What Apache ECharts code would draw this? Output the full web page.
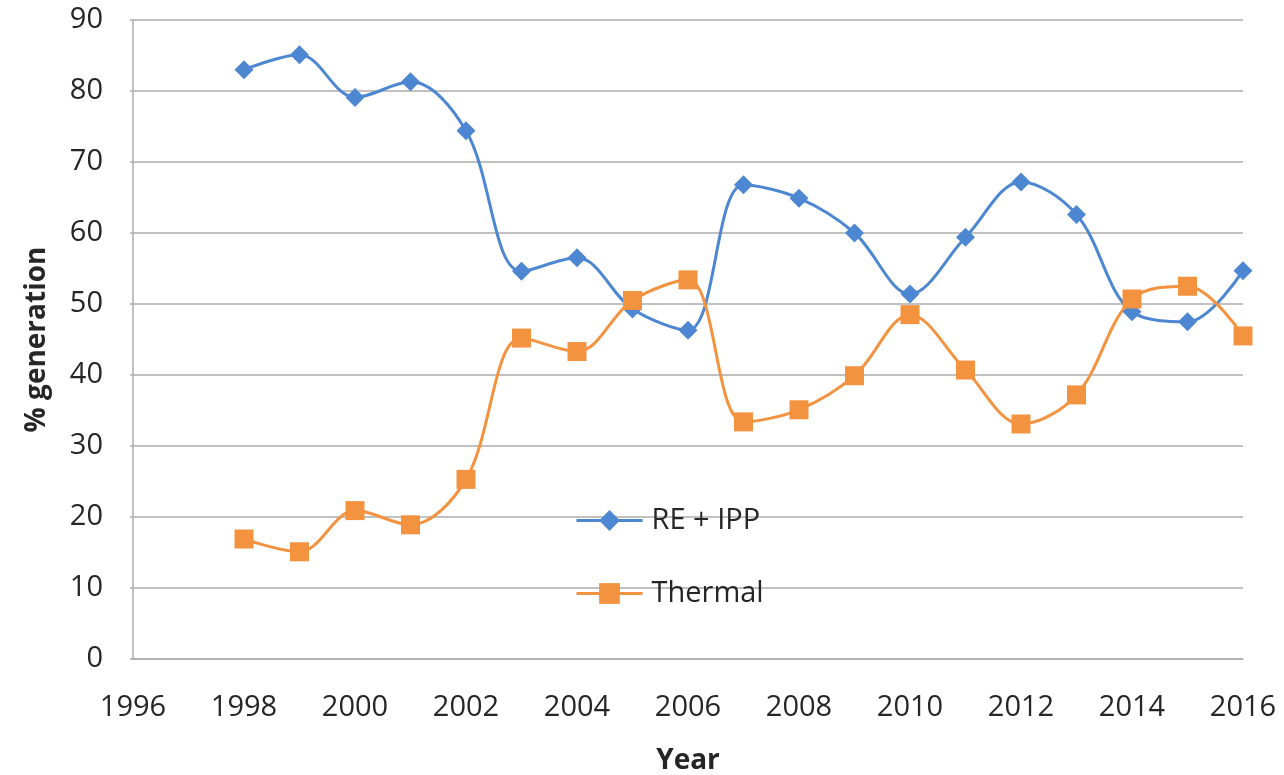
<!DOCTYPE html>
<html>
<head>
<meta charset="utf-8">
<title>% generation by year</title>
<script src="https://cdn.jsdelivr.net/npm/echarts@6/dist/echarts.min.js"></script>
<style>
  html, body { margin: 0; padding: 0; background: #fff; }
  #chart { width: 1284px; height: 775px; }
</style>
</head>
<body>
<div id="chart"></div>
<script>
  // 数据
  var years = [1998, 1999, 2000, 2001, 2002, 2003, 2004, 2005, 2006, 2007,
               2008, 2009, 2010, 2011, 2012, 2013, 2014, 2015, 2016];
  var reIpp = [83.0, 85.1, 79.1, 81.3, 74.4, 54.6, 56.5, 49.3, 46.3, 66.8,
               64.9, 60.0, 51.4, 59.4, 67.2, 62.6, 48.9, 47.5, 54.7];
  var thermal = [16.9, 15.1, 20.9, 18.9, 25.3, 45.2, 43.3, 50.5, 53.4, 33.4,
                 35.1, 39.9, 48.5, 40.7, 33.1, 37.2, 50.7, 52.5, 45.5];

  var toPairs = function (vals) {
    var arr = [];
    for (var i = 0; i < years.length; i++) {
      arr.push([years[i], vals[i]]);
    }
    return arr;
  };

  var blue = '#4d87d1';
  var orange = '#f3923f';
  var gridGray = '#adadad';
  var font = 'Open Sans';

  var myChart = echarts.init(document.getElementById('chart'));
  var option = {
    animation: false,
    textStyle: { fontFamily: font },
    grid: { left: 133, right: 41, top: 20, bottom: 116, containLabel: false, outerBoundsMode: 'none' },
    legend: {
      orient: 'vertical',
      left: 570,
      top: 501,
      itemWidth: 66,
      itemHeight: 26,
      itemGap: 44,
      lineStyle: { width: 3 },
      textStyle: { fontFamily: font, fontSize: 29, color: '#262626', padding: [0, 0, 0, 4] },
      data: ['RE + IPP', 'Thermal']
    },
    xAxis: {
      type: 'value',
      min: 1996,
      max: 2016,
      interval: 2,
      name: 'Year',
      nameLocation: 'middle',
      nameGap: 88,
      nameTextStyle: { fontFamily: font, fontSize: 28, fontWeight: 'bold', color: '#262626' },
      axisLine: { show: true, lineStyle: { color: gridGray, width: 1.5 } },
      axisTick: { show: false },
      splitLine: { show: false },
      axisLabel: {
        fontFamily: font, fontSize: 29, color: '#262626', margin: 34,
        formatter: function (v) { return String(v); }
      }
    },
    yAxis: {
      type: 'value',
      min: 0,
      max: 90,
      interval: 10,
      name: '% generation',
      nameLocation: 'middle',
      nameGap: 82,
      nameTextStyle: { fontFamily: font, fontSize: 28, fontWeight: 'bold', color: '#262626' },
      axisLine: { show: true, lineStyle: { color: gridGray, width: 1.5 } },
      axisTick: { show: true, length: 3, lineStyle: { color: gridGray, width: 1.5 } },
      splitLine: { show: true, lineStyle: { color: gridGray, width: 1.5 } },
      axisLabel: { fontFamily: font, fontSize: 29, color: '#262626', margin: 30 }
    },
    series: [
      {
        name: 'RE + IPP',
        type: 'line',
        smooth: 0.35,
        symbol: 'diamond',
        symbolSize: 19,
        lineStyle: { color: blue, width: 3 },
        itemStyle: { color: blue },
        data: toPairs(reIpp)
      },
      {
        name: 'Thermal',
        type: 'line',
        smooth: 0.35,
        symbol: 'rect',
        symbolSize: 19,
        lineStyle: { color: orange, width: 3 },
        itemStyle: { color: orange },
        data: toPairs(thermal)
      }
    ]
  };
  myChart.setOption(option, true);
</script>
</body>
</html>
